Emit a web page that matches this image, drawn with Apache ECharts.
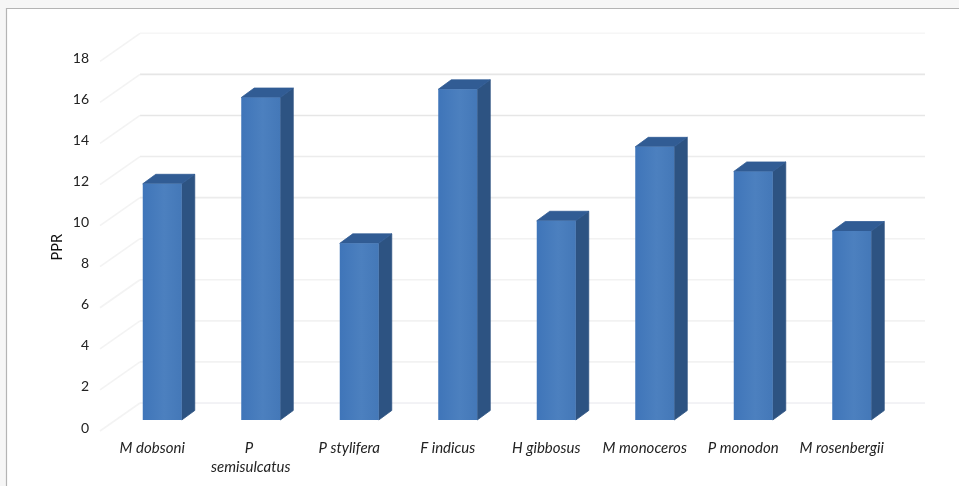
<!DOCTYPE html>
<html>
<head>
<meta charset="utf-8">
<style>html,body{margin:0;padding:0;background:#fff}#chart{width:959px;height:486px}</style>
<script src="https://cdn.jsdelivr.net/npm/echarts@6/dist/echarts.min.js"></script>
</head>
<body>
<div id="chart"></div>
<script>
const species = ['M dobsoni', 'P semisulcatus', 'P stylifera', 'F indicus', 'H gibbosus', 'M monoceros', 'P monodon', 'M rosenbergii'];
const ppr = [11.5, 15.7, 8.6, 16.1, 9.7, 13.3, 12.1, 9.2];
const gridValues = [0, 2, 4, 6, 8, 10, 12, 14, 16, 18];

// Pseudo-3D geometry in pixels: back wall and bar placement relative to the axis plane
const WALL = { dx: 37, dy: -25 };
const BAR = { dx: 10, dy: -8, depthX: 13, depthY: -9.5, widthRatio: 0.396 };

function wallColor(value) {
  if (value === 18) return '#f6f6f6';
  if (value === 0) return '#e6e6ec';
  if (value <= 8) return '#f2f2f2';
  if (value <= 12) return '#ececec';
  return '#e6e6e6';
}

function renderWallLine(params, api) {
  const value = api.value(0);
  const cs = params.coordSys;
  const y = api.coord([0, value])[1];
  return {
    type: 'group',
    silent: true,
    children: [
      { type: 'line', shape: { x1: cs.x + WALL.dx, y1: y + WALL.dy, x2: cs.x + cs.width + WALL.dx - 3, y2: y + WALL.dy },
        style: { stroke: wallColor(value), lineWidth: value === 0 ? 1 : 1.6 } },
      { type: 'line', shape: { x1: cs.x - 3, y1: y + 3, x2: cs.x + WALL.dx, y2: y + WALL.dy },
        style: { stroke: '#f3f3f3', lineWidth: 1.6 } }
    ]
  };
}

function renderBar(params, api) {
  const idx = api.value(0);
  const top = api.coord([idx, api.value(1)]);
  const base = api.coord([idx, 0]);
  const w = api.size([1, 0])[0] * BAR.widthRatio;
  const l = top[0] + BAR.dx - w / 2;
  const r = l + w;
  const t = top[1] + BAR.dy;
  const b = base[1] + BAR.dy;
  const dx = BAR.depthX;
  const dy = BAR.depthY;
  return {
    type: 'group',
    children: [
      { type: 'polygon', shape: { points: [[r, t], [r + dx, t + dy], [r + dx, b + dy], [r, b]] },
        style: { fill: '#2d5382', stroke: '#2d5382', lineWidth: 0.8 } },
      { type: 'polygon', shape: { points: [[l, t], [l + dx, t + dy], [r + dx, t + dy], [r, t]] },
        style: { fill: '#315c94', stroke: '#315c94', lineWidth: 0.8 } },
      { type: 'rect', shape: { x: l, y: t, width: w, height: b - t },
        style: { fill: new echarts.graphic.LinearGradient(0, 0, 1, 0, [
          { offset: 0, color: '#3f75b9' },
          { offset: 0.55, color: '#4c80bf' },
          { offset: 1, color: '#4478b8' }
        ]) } }
    ]
  };
}

const chart = echarts.init(document.getElementById('chart'), null, { renderer: 'canvas' });
chart.setOption({
  animation: false,
  backgroundColor: '#ffffff',
  textStyle: { fontFamily: 'Lato' },
  grid: { left: 103, right: 68, top: 58.3, bottom: 58 },
  graphic: [
    { type: 'rect', z: -10, silent: true, shape: { x: 0, y: 0, width: 959, height: 8 }, style: { fill: '#f6f6f6' } },
    { type: 'rect', z: -10, silent: true, shape: { x: 0, y: 0, width: 6, height: 486 }, style: { fill: '#f6f6f6' } },
    { type: 'polyline', z: -9, silent: true, shape: { points: [[6.5, 486], [6.5, 8.5], [959, 8.5]] },
      style: { stroke: '#b4b4b4', lineWidth: 1.2, fill: null } }
  ],
  xAxis: {
    type: 'category',
    data: species,
    axisLine: { show: false },
    axisTick: { show: false },
    axisLabel: {
      interval: 0, margin: 11, width: 90, overflow: 'break', lineHeight: 19,
      fontStyle: 'italic', fontSize: 15, color: '#222222', fontFamily: 'Lato'
    }
  },
  yAxis: {
    type: 'value',
    min: 0,
    max: 18,
    interval: 2,
    name: 'PPR',
    nameLocation: 'middle',
    nameGap: 38,
    nameMoveOverlap: false,
    nameRotate: 90,
    nameTextStyle: { color: '#111111', fontSize: 14.5, fontFamily: 'Lato', padding: [0, 8, 0, 0] },
    axisLine: { show: false },
    axisTick: { show: false },
    splitLine: { show: false },
    axisLabel: { margin: 14, fontSize: 14, color: '#222222', fontFamily: 'Lato', padding: [3, 0, 0, 0] }
  },
  series: [
    { type: 'custom', coordinateSystem: 'cartesian2d', clip: false, z: 1, silent: true,
      renderItem: renderWallLine, encode: { y: 0 }, data: gridValues.map(v => [v]) },
    { type: 'custom', coordinateSystem: 'cartesian2d', clip: false, z: 2,
      renderItem: renderBar, encode: { x: 0, y: 1 }, data: ppr.map((v, i) => [i, v]) }
  ]
});
</script>
</body>
</html>
